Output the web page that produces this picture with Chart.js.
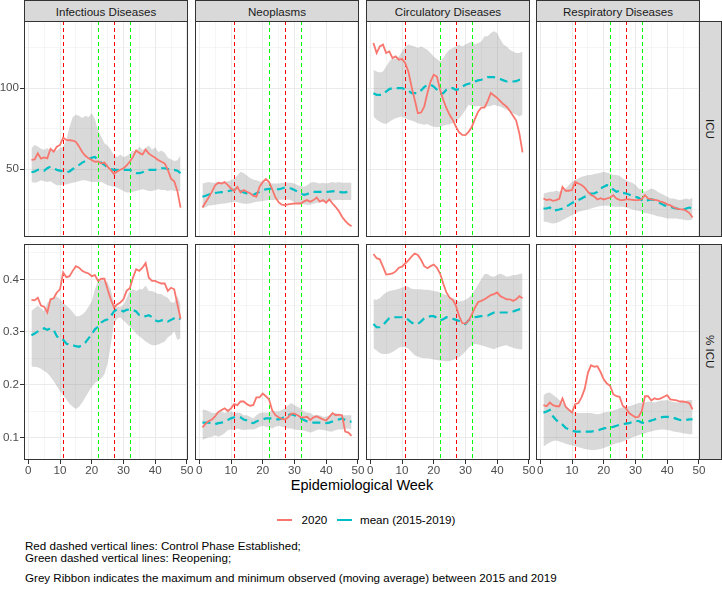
<!DOCTYPE html>
<html>
<head>
<meta charset="utf-8">
<script src="https://cdn.jsdelivr.net/npm/chart.js@4.4.1/dist/chart.umd.min.js"></script>
<style>
  body { margin: 0; background: #fff; font-family: "Liberation Sans", Arial, sans-serif; }
  #fig { position: relative; width: 722px; height: 590px; overflow: hidden; background: #fff; }
  #fig canvas { position: absolute; }
  .strip { position: absolute; box-sizing: border-box; background: #d9d9d9; border: 1px solid #333;
           color: #1a1a1a; font-size: 11.6px; display: flex; align-items: center; justify-content: center; white-space: nowrap; }
  .strip.right span { writing-mode: vertical-rl; }
  .txt { position: absolute; white-space: nowrap; color: #000; font-size: 11.6px; line-height: 14px; }
  .key { position: absolute; height: 2px; width: 15px; }
</style>
</head>
<body>
<div id="fig">
  <div class="txt" style="left:24px;width:676px;top:477px;text-align:center;font-size:14.5px;line-height:17px;">Epidemiological Week</div>
  <div class="key" style="left:277px;top:519px;background:#F8766D;"></div>
  <div class="txt" style="left:301.5px;top:512.5px;">2020</div>
  <div class="key" style="left:337px;top:519px;background:#00BFC4;"></div>
  <div class="txt" style="left:360px;top:512.5px;">mean (2015-2019)</div>
  <div class="txt" style="left:25px;top:539px;">Red dashed vertical lines: Control Phase Established;</div>
  <div class="txt" style="left:25px;top:551px;">Green dashed vertical lines: Reopening;</div>
  <div class="txt" style="left:25px;top:571px;">Grey Ribbon indicates the maximum and minimum observed (moving average) between 2015 and 2019</div>
</div>
<script>
const WEEKS = [1, 2, 3, 4, 5, 6, 7, 8, 9, 10, 11, 12, 13, 14, 15, 16, 17, 18, 19, 20, 21, 22, 23, 24,
  25, 26, 27, 28, 29, 30, 31, 32, 33, 34, 35, 36, 37, 38, 39, 40, 41, 42, 43, 44, 45, 46, 47, 48];
const DISEASES = ["Infectious Diseases", "Neoplasms", "Circulatory Diseases", "Respiratory Diseases"];
const MEASURES = ["ICU", "% ICU"];
const CONTROL_WEEKS = [11, 27];
const REOPEN_WEEKS = [22, 32];

const X_TICKS = [0, 5, 10, 15, 20, 25, 30, 35, 40, 45, 50];
const X_LABELS = [0, 10, 20, 30, 40, 50];
const ICU_TICKS = [25, 50, 75, 100, 125];
const ICU_LABELS = [50, 100];
const PCT_TICKS = [0.1, 0.15, 0.2, 0.25, 0.3, 0.35, 0.4, 0.45];
const PCT_LABELS = [0.1, 0.2, 0.3, 0.4];

// ICU counts
const icuInf2020 = [55.6, 56.0, 59.7, 56.4, 57.2, 56.6, 62.5, 60.7, 63.8, 64.9, 69.4, 68.0, 67.8, 67.5, 66.9, 64.0, 60.5, 58.2, 56.6, 55.6, 54.5, 54.7, 53.5, 54.0, 51.5, 49.5, 46.9, 48.5, 49.6, 50.4, 52.3, 54.5, 57.5, 61.5, 60.0, 59.0, 62.0, 59.5, 58.2, 57.0, 55.5, 54.5, 53.5, 49.5, 44.0, 42.5, 36.5, 26.2];
const icuInfMean = [48.0, 48.5, 49.5, 49.8, 49.0, 50.5, 51.5, 50.5, 49.5, 49.0, 48.5, 48.0, 48.5, 50.0, 51.0, 52.5, 54.0, 55.0, 56.0, 57.0, 57.5, 55.5, 54.0, 52.5, 51.0, 50.0, 49.5, 49.5, 49.5, 49.5, 49.5, 49.5, 48.5, 47.5, 47.5, 48.0, 49.0, 49.5, 49.5, 49.5, 50.0, 50.5, 50.5, 50.0, 49.5, 49.5, 49.0, 47.5];
const icuInfMin = [42.0, 41.5, 42.0, 43.0, 42.5, 42.0, 42.5, 41.0, 40.0, 40.0, 40.5, 40.5, 41.0, 41.5, 42.0, 42.5, 43.0, 43.0, 42.5, 42.0, 42.0, 42.0, 42.0, 41.0, 40.0, 39.5, 39.0, 38.5, 37.5, 36.5, 35.5, 35.5, 36.0, 36.5, 37.0, 37.5, 37.0, 36.5, 36.5, 37.0, 37.5, 37.0, 37.0, 36.5, 37.0, 36.5, 36.5, 36.5];
const icuInfMax = [62.8, 64.8, 64.0, 62.5, 62.0, 63.0, 61.0, 62.0, 61.5, 63.0, 64.0, 68.0, 76.0, 82.0, 83.5, 83.0, 81.5, 83.0, 82.0, 84.5, 81.0, 74.0, 70.0, 66.0, 64.5, 62.0, 58.5, 57.5, 59.0, 57.5, 58.0, 59.5, 61.5, 61.0, 64.0, 62.0, 63.0, 64.5, 62.0, 63.5, 60.5, 61.5, 60.0, 57.0, 56.0, 55.0, 55.5, 58.5];

const icuNeo2020 = [26.2, 29.5, 32.5, 36.0, 40.0, 41.5, 41.0, 42.0, 40.0, 38.0, 36.5, 39.0, 35.5, 37.0, 36.0, 35.0, 33.5, 33.0, 39.0, 42.0, 43.8, 42.0, 37.5, 32.5, 29.5, 28.0, 27.7, 28.2, 28.5, 28.7, 28.7, 28.7, 30.0, 30.8, 29.8, 30.8, 32.4, 29.8, 30.8, 29.2, 31.2, 28.7, 26.5, 24.0, 20.5, 18.0, 16.0, 14.7];
const icuNeoMean = [32.9, 33.5, 34.3, 34.8, 35.2, 35.5, 35.7, 35.9, 36.3, 36.8, 37.2, 37.6, 36.5, 35.5, 35.0, 34.3, 34.0, 35.0, 36.0, 37.0, 37.4, 37.8, 38.0, 37.8, 37.5, 38.0, 38.6, 38.3, 38.0, 37.0, 36.0, 35.0, 34.0, 34.5, 35.5, 35.9, 35.9, 35.9, 35.9, 35.9, 36.0, 36.2, 36.4, 36.0, 35.6, 35.6, 36.0, 36.4];
const icuNeoMin = [25.6, 26.5, 27.5, 27.7, 28.0, 28.2, 28.5, 28.7, 29.0, 29.5, 29.8, 29.5, 29.0, 28.5, 28.5, 28.7, 29.3, 29.8, 30.0, 30.3, 30.5, 30.8, 30.8, 30.8, 31.0, 31.0, 31.0, 31.2, 30.5, 29.5, 29.0, 28.5, 28.3, 28.0, 28.0, 28.5, 29.0, 29.5, 29.8, 29.8, 30.2, 30.5, 30.8, 30.8, 30.8, 30.8, 30.8, 30.8];
const icuNeoMax = [41.1, 41.5, 42.0, 41.5, 41.5, 42.0, 42.0, 42.0, 42.5, 43.0, 44.0, 46.0, 48.3, 47.5, 46.0, 44.5, 43.5, 43.0, 42.5, 42.0, 42.0, 41.5, 41.0, 41.0, 41.0, 41.5, 41.5, 41.5, 41.5, 41.0, 40.0, 39.5, 39.0, 40.0, 41.5, 42.0, 41.5, 41.0, 41.5, 41.0, 41.5, 42.0, 41.5, 42.0, 41.5, 41.5, 41.5, 41.5];

const icuCirc2020 = [127.9, 121.7, 125.8, 126.9, 121.7, 122.7, 118.6, 119.6, 117.6, 118.0, 115.5, 110.3, 101.0, 92.8, 84.5, 84.9, 88.6, 96.9, 104.1, 108.3, 107.2, 99.0, 92.8, 87.6, 83.5, 80.4, 76.2, 72.7, 71.1, 71.0, 73.0, 76.0, 81.0, 85.5, 88.0, 88.0, 92.0, 97.0, 95.5, 94.0, 92.0, 90.0, 88.5, 86.0, 83.0, 80.0, 72.0, 60.3];
const icuCircMean = [96.9, 95.9, 95.9, 95.9, 97.9, 99.4, 100.0, 100.0, 100.0, 100.0, 99.4, 98.6, 96.9, 96.9, 96.9, 98.6, 100.6, 102.1, 102.1, 101.0, 99.0, 96.5, 96.9, 99.0, 100.0, 100.0, 99.0, 99.4, 101.0, 102.1, 102.7, 103.1, 104.1, 104.8, 105.2, 106.0, 106.8, 106.8, 106.8, 106.2, 105.6, 104.8, 104.1, 104.1, 104.1, 104.3, 105.2, 105.2];
const icuCircMin = [82.4, 80.4, 79.3, 78.3, 77.9, 79.3, 80.4, 81.4, 82.0, 82.4, 81.4, 80.4, 80.0, 79.3, 78.3, 77.9, 77.3, 77.9, 76.7, 76.2, 75.8, 76.2, 76.7, 77.3, 77.7, 78.3, 79.3, 81.4, 83.5, 86.6, 89.7, 89.0, 88.6, 89.0, 89.0, 88.2, 88.6, 89.0, 89.7, 89.0, 88.6, 87.6, 86.6, 85.5, 84.5, 83.5, 82.4, 83.5];
const icuCircMax = [111.4, 110.3, 109.7, 110.3, 113.4, 116.5, 118.6, 118.0, 119.6, 122.7, 125.8, 126.9, 126.3, 125.8, 124.8, 125.8, 124.8, 123.8, 121.7, 119.6, 118.0, 116.5, 118.6, 121.7, 123.8, 124.8, 125.8, 126.9, 125.8, 126.9, 127.9, 128.9, 126.9, 127.9, 128.9, 132.0, 132.0, 134.1, 135.1, 134.1, 130.0, 126.9, 125.8, 123.8, 122.7, 121.7, 121.7, 122.7];

const icuResp2020 = [31.8, 30.8, 31.2, 30.4, 30.8, 31.6, 39.0, 36.6, 36.6, 37.0, 42.1, 41.1, 40.1, 38.5, 36.0, 34.0, 33.0, 31.2, 32.0, 31.2, 31.8, 32.4, 33.9, 31.8, 31.0, 30.8, 31.2, 31.2, 31.0, 30.8, 30.8, 31.5, 33.9, 31.8, 31.2, 31.0, 30.6, 29.8, 29.2, 28.2, 27.5, 26.5, 25.6, 25.2, 25.0, 24.2, 22.8, 20.0];
const icuRespMean = [25.6, 25.6, 26.2, 24.2, 24.6, 25.0, 25.6, 26.7, 27.7, 29.1, 29.8, 30.8, 31.8, 32.9, 33.9, 34.9, 34.9, 35.9, 38.0, 39.0, 40.1, 39.0, 37.4, 35.9, 36.6, 35.3, 34.9, 34.3, 33.3, 32.9, 32.2, 30.8, 29.8, 30.8, 31.2, 30.8, 29.8, 28.7, 27.7, 27.1, 26.7, 26.0, 25.6, 25.0, 24.6, 25.6, 26.2, 25.6];
const icuRespMin = [17.4, 17.4, 16.7, 16.3, 16.7, 17.4, 18.4, 19.4, 20.5, 21.5, 22.5, 23.6, 24.0, 24.6, 25.0, 25.6, 26.2, 26.7, 27.1, 27.3, 27.3, 27.3, 26.7, 26.7, 26.7, 26.7, 26.2, 25.6, 25.0, 24.6, 24.2, 23.6, 22.9, 22.5, 22.1, 21.5, 20.9, 20.5, 20.0, 19.4, 19.4, 19.4, 19.4, 19.0, 18.8, 18.4, 18.4, 18.8];
const icuRespMax = [34.9, 35.3, 35.9, 35.9, 36.6, 35.9, 37.0, 38.0, 40.1, 42.1, 43.2, 44.2, 45.2, 45.7, 46.3, 46.3, 46.9, 47.3, 47.7, 48.3, 47.7, 47.3, 46.3, 46.3, 45.7, 44.2, 43.2, 42.1, 41.5, 40.1, 38.0, 37.4, 35.9, 37.0, 38.0, 37.4, 35.9, 34.9, 33.9, 32.9, 31.8, 31.8, 31.2, 30.8, 31.2, 31.8, 31.2, 32.4];

// share of ICU
const pctInf2020 = [0.361, 0.360, 0.365, 0.350, 0.348, 0.337, 0.362, 0.364, 0.375, 0.381, 0.413, 0.404, 0.406, 0.416, 0.425, 0.422, 0.416, 0.413, 0.411, 0.406, 0.408, 0.397, 0.401, 0.401, 0.381, 0.362, 0.347, 0.352, 0.356, 0.362, 0.378, 0.383, 0.403, 0.419, 0.416, 0.422, 0.431, 0.403, 0.397, 0.397, 0.394, 0.392, 0.392, 0.378, 0.384, 0.381, 0.353, 0.325];
const pctInfMean = [0.294, 0.297, 0.301, 0.304, 0.307, 0.304, 0.307, 0.304, 0.292, 0.286, 0.285, 0.278, 0.275, 0.275, 0.273, 0.272, 0.275, 0.280, 0.288, 0.296, 0.305, 0.310, 0.318, 0.322, 0.324, 0.330, 0.339, 0.343, 0.342, 0.339, 0.342, 0.343, 0.342, 0.339, 0.332, 0.329, 0.330, 0.332, 0.328, 0.322, 0.320, 0.322, 0.323, 0.320, 0.323, 0.326, 0.328, 0.324];
const pctInfMin = [0.234, 0.234, 0.233, 0.230, 0.226, 0.222, 0.215, 0.207, 0.197, 0.188, 0.180, 0.172, 0.164, 0.158, 0.154, 0.158, 0.166, 0.176, 0.186, 0.196, 0.203, 0.207, 0.212, 0.220, 0.240, 0.275, 0.315, 0.325, 0.328, 0.322, 0.316, 0.310, 0.304, 0.297, 0.292, 0.287, 0.282, 0.278, 0.275, 0.275, 0.276, 0.279, 0.282, 0.290, 0.294, 0.302, 0.285, 0.288];
const pctInfMax = [0.340, 0.345, 0.350, 0.345, 0.340, 0.355, 0.362, 0.364, 0.368, 0.362, 0.356, 0.350, 0.345, 0.338, 0.330, 0.330, 0.333, 0.339, 0.348, 0.358, 0.381, 0.396, 0.398, 0.398, 0.394, 0.381, 0.355, 0.348, 0.348, 0.351, 0.364, 0.378, 0.381, 0.378, 0.381, 0.381, 0.388, 0.378, 0.378, 0.375, 0.372, 0.372, 0.368, 0.365, 0.356, 0.356, 0.368, 0.353];

const pctNeo2020 = [0.119, 0.126, 0.131, 0.134, 0.140, 0.148, 0.152, 0.155, 0.150, 0.155, 0.163, 0.161, 0.168, 0.168, 0.163, 0.160, 0.161, 0.176, 0.176, 0.183, 0.178, 0.172, 0.151, 0.142, 0.138, 0.135, 0.134, 0.138, 0.145, 0.145, 0.142, 0.138, 0.138, 0.139, 0.133, 0.138, 0.140, 0.137, 0.134, 0.132, 0.139, 0.146, 0.142, 0.143, 0.142, 0.111, 0.109, 0.103];
const pctNeoMean = [0.128, 0.128, 0.128, 0.127, 0.125, 0.127, 0.128, 0.130, 0.133, 0.136, 0.138, 0.139, 0.138, 0.134, 0.132, 0.128, 0.127, 0.130, 0.133, 0.134, 0.136, 0.136, 0.136, 0.134, 0.134, 0.136, 0.139, 0.142, 0.144, 0.142, 0.139, 0.136, 0.133, 0.130, 0.128, 0.128, 0.128, 0.128, 0.128, 0.127, 0.128, 0.130, 0.132, 0.134, 0.136, 0.133, 0.130, 0.130];
const pctNeoMin = [0.095, 0.098, 0.100, 0.101, 0.104, 0.101, 0.104, 0.108, 0.114, 0.115, 0.114, 0.117, 0.115, 0.114, 0.115, 0.115, 0.115, 0.117, 0.120, 0.122, 0.120, 0.119, 0.117, 0.120, 0.122, 0.120, 0.119, 0.117, 0.117, 0.115, 0.114, 0.114, 0.113, 0.111, 0.109, 0.111, 0.114, 0.115, 0.114, 0.113, 0.111, 0.111, 0.114, 0.115, 0.115, 0.117, 0.117, 0.115];
const pctNeoMax = [0.153, 0.152, 0.149, 0.146, 0.146, 0.149, 0.149, 0.146, 0.149, 0.149, 0.146, 0.147, 0.146, 0.142, 0.142, 0.139, 0.136, 0.142, 0.146, 0.147, 0.147, 0.147, 0.152, 0.149, 0.149, 0.152, 0.155, 0.161, 0.165, 0.161, 0.158, 0.155, 0.149, 0.147, 0.146, 0.142, 0.142, 0.142, 0.139, 0.139, 0.142, 0.146, 0.146, 0.144, 0.142, 0.142, 0.142, 0.142];

const pctCirc2020 = [0.448, 0.440, 0.438, 0.424, 0.409, 0.410, 0.411, 0.415, 0.422, 0.424, 0.430, 0.436, 0.443, 0.449, 0.446, 0.437, 0.425, 0.421, 0.425, 0.428, 0.422, 0.411, 0.392, 0.375, 0.365, 0.361, 0.350, 0.330, 0.317, 0.316, 0.322, 0.333, 0.346, 0.357, 0.359, 0.362, 0.366, 0.370, 0.372, 0.375, 0.368, 0.365, 0.362, 0.362, 0.359, 0.362, 0.368, 0.364];
const pctCircMean = [0.315, 0.309, 0.309, 0.313, 0.320, 0.326, 0.328, 0.328, 0.328, 0.328, 0.327, 0.323, 0.318, 0.315, 0.315, 0.320, 0.326, 0.328, 0.330, 0.330, 0.327, 0.322, 0.324, 0.328, 0.327, 0.325, 0.323, 0.321, 0.316, 0.315, 0.322, 0.326, 0.328, 0.329, 0.330, 0.331, 0.331, 0.334, 0.337, 0.337, 0.337, 0.337, 0.337, 0.337, 0.339, 0.341, 0.343, 0.344];
const pctCircMin = [0.269, 0.265, 0.260, 0.258, 0.258, 0.259, 0.262, 0.266, 0.270, 0.272, 0.271, 0.268, 0.262, 0.256, 0.253, 0.251, 0.250, 0.250, 0.249, 0.248, 0.247, 0.246, 0.245, 0.244, 0.245, 0.247, 0.249, 0.252, 0.257, 0.263, 0.270, 0.275, 0.277, 0.276, 0.275, 0.273, 0.271, 0.269, 0.267, 0.270, 0.272, 0.274, 0.275, 0.272, 0.270, 0.268, 0.267, 0.267];
const pctCircMax = [0.362, 0.361, 0.364, 0.370, 0.375, 0.378, 0.379, 0.380, 0.382, 0.384, 0.387, 0.386, 0.382, 0.381, 0.381, 0.381, 0.380, 0.380, 0.379, 0.378, 0.377, 0.375, 0.372, 0.370, 0.367, 0.364, 0.361, 0.358, 0.359, 0.361, 0.365, 0.370, 0.380, 0.390, 0.400, 0.410, 0.410, 0.406, 0.405, 0.408, 0.411, 0.408, 0.405, 0.406, 0.408, 0.408, 0.410, 0.411];

const pctResp2020 = [0.161, 0.159, 0.166, 0.161, 0.159, 0.159, 0.174, 0.158, 0.152, 0.147, 0.163, 0.165, 0.176, 0.192, 0.222, 0.237, 0.234, 0.235, 0.224, 0.210, 0.202, 0.198, 0.182, 0.178, 0.177, 0.160, 0.155, 0.146, 0.142, 0.138, 0.139, 0.150, 0.178, 0.178, 0.170, 0.174, 0.172, 0.174, 0.177, 0.180, 0.172, 0.171, 0.170, 0.168, 0.168, 0.167, 0.165, 0.153];
const pctRespMean = [0.147, 0.149, 0.152, 0.140, 0.133, 0.128, 0.124, 0.118, 0.115, 0.113, 0.111, 0.111, 0.111, 0.111, 0.111, 0.111, 0.112, 0.113, 0.115, 0.117, 0.118, 0.119, 0.120, 0.122, 0.124, 0.125, 0.126, 0.127, 0.129, 0.131, 0.131, 0.128, 0.127, 0.130, 0.132, 0.134, 0.136, 0.138, 0.139, 0.139, 0.139, 0.137, 0.135, 0.133, 0.132, 0.133, 0.134, 0.134];
const pctRespMin = [0.082, 0.087, 0.090, 0.093, 0.094, 0.092, 0.090, 0.088, 0.086, 0.085, 0.083, 0.081, 0.080, 0.078, 0.077, 0.076, 0.076, 0.077, 0.078, 0.080, 0.082, 0.084, 0.087, 0.089, 0.090, 0.092, 0.095, 0.097, 0.100, 0.102, 0.104, 0.106, 0.108, 0.110, 0.111, 0.113, 0.114, 0.115, 0.115, 0.114, 0.113, 0.111, 0.110, 0.109, 0.108, 0.107, 0.106, 0.106];
const pctRespMax = [0.180, 0.184, 0.185, 0.181, 0.176, 0.171, 0.165, 0.160, 0.155, 0.150, 0.147, 0.146, 0.146, 0.146, 0.146, 0.146, 0.145, 0.144, 0.145, 0.147, 0.148, 0.149, 0.151, 0.153, 0.155, 0.157, 0.158, 0.159, 0.161, 0.163, 0.165, 0.166, 0.166, 0.168, 0.167, 0.166, 0.168, 0.170, 0.170, 0.171, 0.169, 0.167, 0.166, 0.166, 0.168, 0.170, 0.171, 0.171];

// [row][col] -> [2020, mean, min, max]
const SERIES = [
  [[icuInf2020, icuInfMean, icuInfMin, icuInfMax],
   [icuNeo2020, icuNeoMean, icuNeoMin, icuNeoMax],
   [icuCirc2020, icuCircMean, icuCircMin, icuCircMax],
   [icuResp2020, icuRespMean, icuRespMin, icuRespMax]],
  [[pctInf2020, pctInfMean, pctInfMin, pctInfMax],
   [pctNeo2020, pctNeoMean, pctNeoMin, pctNeoMax],
   [pctCirc2020, pctCircMean, pctCircMin, pctCircMax],
   [pctResp2020, pctRespMean, pctRespMin, pctRespMax]],
];

const RED = "#F8766D";
const TEAL = "#00BFC4";
const RIBBON = "rgba(128,128,128,0.3)";
const GRID = "#EBEBEB";
const INK = "#333333";

const PANEL_X = [24, 195, 366, 536];
const PANEL_Y = [21, 244];
const PANEL_W = 164;
const PANEL_H = 216;
const X_RANGE = [-1.35, 50.35];
const Y_RANGE = [[8, 141.5], [0.057, 0.467]];

Chart.defaults.font.family = '"Liberation Sans", Arial, sans-serif';

const fig = document.getElementById("fig");

const phaseLines = {
  id: "phaseLines",
  afterDatasetDraw(chart, args) {
    if (args.index !== 2) return;
    const { ctx, chartArea: a } = chart;
    const x = chart.scales.x;
    ctx.save();
    ctx.beginPath();
    ctx.rect(a.left, a.top, a.right - a.left, a.bottom - a.top);
    ctx.clip();
    ctx.lineWidth = 1;
    ctx.setLineDash([4, 3]);
    [[CONTROL_WEEKS, "#FF0000"], [REOPEN_WEEKS, "#00FF00"]].forEach(([weeks, color]) => {
      ctx.strokeStyle = color;
      weeks.forEach((w) => {
        const px = Math.round(x.getPixelForValue(w)) + 0.5;
        ctx.beginPath();
        ctx.moveTo(px, a.top);
        ctx.lineTo(px, a.bottom);
        ctx.stroke();
      });
    });
    ctx.restore();
  },
};

const panelBorder = {
  id: "panelBorder",
  afterDraw(chart) {
    const { ctx, chartArea: a } = chart;
    ctx.save();
    ctx.strokeStyle = INK;
    ctx.lineWidth = 1;
    ctx.strokeRect(Math.round(a.left) + 0.5, Math.round(a.top) + 0.5,
      Math.round(a.right - a.left) - 1, Math.round(a.bottom - a.top) - 1);
    ctx.restore();
  },
};

function addStrip(text, left, top, width, height, right) {
  const el = document.createElement("div");
  el.className = right ? "strip right" : "strip";
  el.style.cssText = `left:${left}px;top:${top}px;width:${width}px;height:${height}px;`;
  const span = document.createElement("span");
  span.textContent = text;
  el.appendChild(span);
  fig.appendChild(el);
}

function drawPanel(row, col) {
  const [s2020, sMean, sMin, sMax] = SERIES[row][col];
  const isLeft = col === 0;
  const isBottom = row === 1;
  const mL = isLeft ? 24 : 6, mR = 8, mT = 1, mB = isBottom ? 24 : 1;
  const yTicks = row === 0 ? ICU_TICKS : PCT_TICKS;
  const yLabels = row === 0 ? ICU_LABELS : PCT_LABELS;

  const cv = document.createElement("canvas");
  cv.width = PANEL_W + mL + mR;
  cv.height = PANEL_H + mT + mB;
  cv.style.left = PANEL_X[col] - mL + "px";
  cv.style.top = PANEL_Y[row] - mT + "px";
  fig.appendChild(cv);

  const xMajor = (v) => X_LABELS.includes(v);
  const yMajor = (v) => yLabels.includes(v);
  const tickFont = { size: 11.6 };

  new Chart(cv, {
    type: "line",
    data: {
      labels: WEEKS,
      datasets: [
        { data: s2020, borderColor: RED, borderWidth: 1.8, pointRadius: 0, fill: false },
        { data: sMean, borderColor: TEAL, borderWidth: 2.2, borderDash: [8, 5], pointRadius: 0, fill: false },
        { data: sMin, borderColor: "rgba(0,0,0,0)", borderWidth: 0, pointRadius: 0, fill: false },
        { data: sMax, borderColor: "rgba(0,0,0,0)", borderWidth: 0, pointRadius: 0, fill: "-1", backgroundColor: RIBBON },
      ],
    },
    options: {
      responsive: false,
      animation: false,
      events: [],
      layout: { padding: { left: isLeft ? 0 : mL, right: mR, top: mT, bottom: isBottom ? 0 : mB } },
      plugins: { legend: { display: false }, tooltip: { enabled: false } },
      scales: {
        x: {
          type: "linear",
          min: X_RANGE[0],
          max: X_RANGE[1],
          afterBuildTicks: (s) => { s.ticks = X_TICKS.map((v) => ({ value: v })); },
          afterFit: (s) => { s.height = isBottom ? 24 : 0; s.paddingLeft = 0; s.paddingRight = 0; },
          border: { display: false },
          grid: {
            color: GRID,
            lineWidth: (c) => (xMajor(c.tick.value) ? 1 : 0.5),
            drawTicks: isBottom,
            tickLength: 4,
            tickWidth: 1,
            tickColor: (c) => (xMajor(c.tick.value) ? INK : "rgba(0,0,0,0)"),
          },
          ticks: {
            display: isBottom,
            autoSkip: false,
            maxRotation: 0,
            padding: 0,
            color: "#4D4D4D",
            font: tickFont,
            callback: (v) => (xMajor(v) ? String(v) : ""),
          },
        },
        y: {
          type: "linear",
          min: Y_RANGE[row][0],
          max: Y_RANGE[row][1],
          afterBuildTicks: (s) => { s.ticks = yTicks.map((v) => ({ value: v })); },
          afterFit: (s) => { s.width = isLeft ? 24 : 0; s.paddingTop = 0; s.paddingBottom = 0; },
          border: { display: false },
          grid: {
            color: GRID,
            lineWidth: (c) => (yMajor(c.tick.value) ? 1 : 0.5),
            drawTicks: isLeft,
            tickLength: 4,
            tickWidth: 1,
            tickColor: (c) => (yMajor(c.tick.value) ? INK : "rgba(0,0,0,0)"),
          },
          ticks: {
            display: isLeft,
            autoSkip: false,
            padding: 1,
            color: "#4D4D4D",
            font: tickFont,
            callback: (v) => (yMajor(v) ? String(v) : ""),
          },
        },
      },
    },
    plugins: [phaseLines, panelBorder],
  });
}

DISEASES.forEach((name, col) => addStrip(name, PANEL_X[col], 0, PANEL_W, 22, false));
MEASURES.forEach((name, row) => addStrip(name, 699, PANEL_Y[row], 23, PANEL_H, true));

for (let row = 0; row < MEASURES.length; row++) {
  for (let col = 0; col < DISEASES.length; col++) drawPanel(row, col);
}
</script>
</body>
</html>
